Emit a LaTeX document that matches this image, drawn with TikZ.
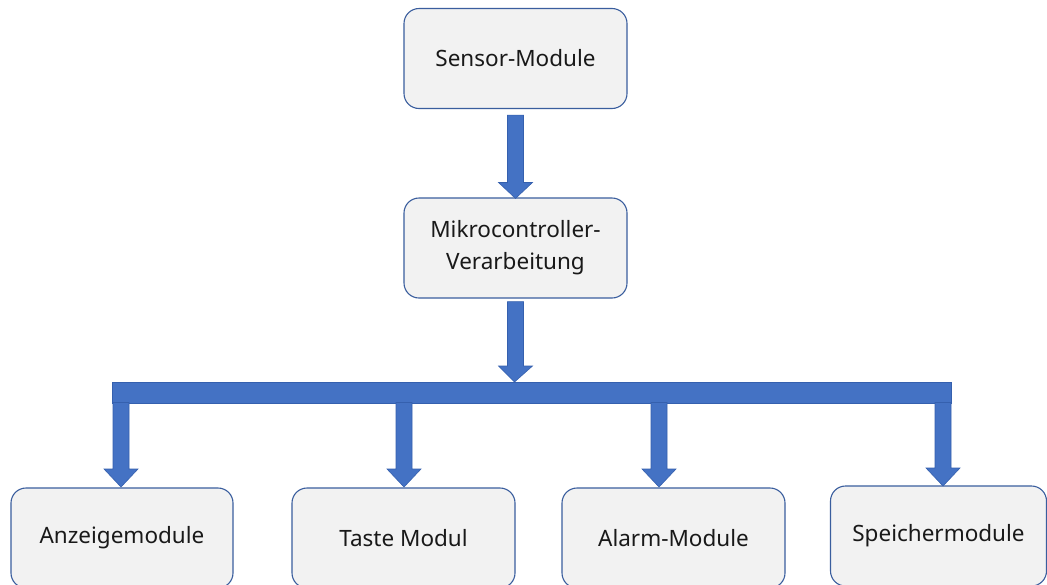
\documentclass[tikz,border=0pt]{standalone}
\usepackage{fontspec}
\setmainfont{Noto Sans}
\usetikzlibrary{calc}
\definecolor{boxfill}{HTML}{F2F2F2}
\definecolor{boxline}{HTML}{3A5E9E}
\definecolor{arrfill}{HTML}{4472C4}
\definecolor{arrline}{HTML}{3560AE}
\tikzset{
  modbox/.style={draw=boxline, line width=1.1pt, fill=boxfill, rounded corners=15pt,
    minimum width=223pt, minimum height=100pt, inner sep=0pt, align=center,
    font=\fontsize{22.5}{32}\selectfont, text=black!90},
  blk/.style={fill=arrfill, draw=arrline, line width=0.6pt, line join=miter},
}
\newcommand\blkarrow[3]{%
  \path[blk] let \p1=(#1), \p2=(#2) in
    (\x1-8pt,\y1) -- (\x1-8pt,\y2+#3) -- (\x1-17pt,\y2+#3) -- (\x2,\y2)
    -- (\x1+17pt,\y2+#3) -- (\x1+8pt,\y2+#3) -- (\x1+8pt,\y1) -- cycle;}
\begin{document}
\begin{tikzpicture}[x=1pt,y=-1pt]
\path[use as bounding box, clip] (0,0) rectangle (1047,584);
\fill[white] (0,0) rectangle (1047,584);
% boxes
\node[modbox] (sensor) at (515.5,58.5) {Sensor-Module};
\node[modbox] (mcu) at (515.5,248) {Mikrocontroller-\\Verarbeitung};
\node[modbox, minimum width=222pt] (anz) at (122,538) {Anzeigemodule};
\node[modbox] (taste) at (403.5,538) {Taste Modul};
\node[modbox] (alarm) at (673.5,538) {Alarm-Module};
\node[modbox, minimum width=216pt] (speicher) at (938.5,536) {Speichermodule};
% bus bar
\node[blk, minimum width=839pt, minimum height=21pt, inner sep=0pt] (bar) at (531.5,392.5) {};
% arrow coordinates
\coordinate (s1) at ([yshift=-6pt]sensor.south);
\coordinate (e1) at ([yshift=-1pt]mcu.north);
\coordinate (s2) at ([yshift=-3pt]mcu.south);
\coordinate (e2) at (514.5,382);
\blkarrow{s1}{e1}{16pt}
\blkarrow{s2}{e2}{16pt}
\coordinate (b1s) at (121,402.5);  \coordinate (b1e) at (121,487);
\coordinate (b2s) at (404,402.5);  \coordinate (b2e) at (404,487);
\coordinate (b3s) at (659,402.5);  \coordinate (b3e) at (659,487);
\coordinate (b4s) at (943,402.5);  \coordinate (b4e) at (943,486);
\blkarrow{b1s}{b1e}{18pt}
\blkarrow{b2s}{b2e}{18pt}
\blkarrow{b3s}{b3e}{18pt}
\blkarrow{b4s}{b4e}{18pt}
\end{tikzpicture}
\end{document}
